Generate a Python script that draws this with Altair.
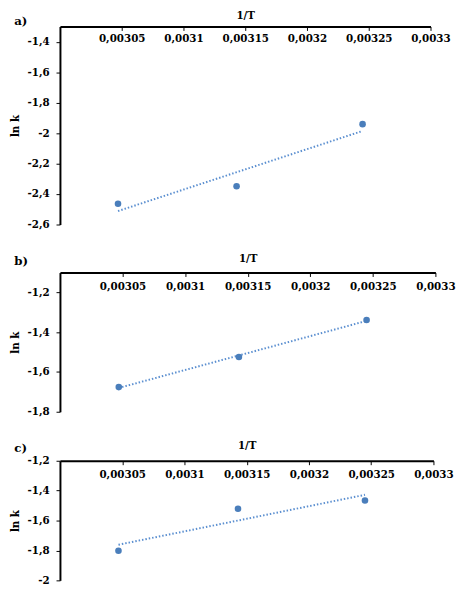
import altair as alt
import pandas as pd

# 1/T values (K^-1), shared by all panels
inv_T = [0.003047, 0.003143, 0.003245]

# ln k values
lnk_a = [-2.464, -2.349, -1.941]
lnk_b = [-1.676, -1.525, -1.339]
lnk_c = [-1.802, -1.521, -1.466]

x_ticks = [0.00305, 0.0031, 0.00315, 0.0032, 0.00325, 0.0033]
y_ticks_a = [-2.6, -2.4, -2.2, -2.0, -1.8, -1.6, -1.4]
y_ticks_b = [-1.8, -1.6, -1.4, -1.2]
y_ticks_c = [-2.0, -1.8, -1.6, -1.4, -1.2]

FONT = "DejaVu Serif"
FS = 10.5
PT_COLOR = "#4A7EBB"
LINE_COLOR = "#5B8FD0"

X_LABEL = "replace(format(datum.value, '.5~f'), '.', ',')"
Y_LABEL = "replace(replace(format(datum.value, '.1~f'), '.', ','), '\u2212', '-')"


def panel(label, y, ydomain, yvalues, w, h, title_y, label_pad, t_off):
    df = pd.DataFrame({"x": inv_T, "y": y})
    xscale = alt.Scale(domain=[0.003, 0.0033], nice=False, zero=False)
    yscale = alt.Scale(domain=ydomain, nice=False, zero=False)
    xaxis = alt.Axis(
        orient="bottom", offset=-h, values=x_ticks, labelExpr=X_LABEL,
        title="1/T", titleY=title_y, titleBaseline="middle",
        titleFont=FONT, titleFontSize=FS, titleFontWeight="bold", titleColor="black",
        labelFont=FONT, labelFontSize=FS, labelFontWeight="bold", labelColor="black",
        labelBaseline="middle", labelPadding=label_pad, labelFlush=False,
        tickSize=4, tickColor="black", tickWidth=1,
        domainColor="black", domainWidth=2, grid=False,
    )
    yaxis = alt.Axis(
        orient="left", values=yvalues, labelExpr=Y_LABEL,
        title="ln k", titleFont=FONT, titleFontSize=FS, titleFontWeight="bold",
        titleColor="black", titlePadding=7,
        labelFont=FONT, labelFontSize=FS, labelFontWeight="bold", labelColor="black",
        labelPadding=7, labelFlush=False,
        tickSize=4, tickColor="black", tickWidth=1,
        domainColor="black", domainWidth=2, grid=False,
    )
    enc = dict(
        x=alt.X("x:Q", scale=xscale, axis=xaxis),
        y=alt.Y("y:Q", scale=yscale, axis=yaxis),
    )
    base = alt.Chart(df)
    trend = base.transform_regression("x", "y").mark_line(
        color=LINE_COLOR, strokeDash=[1.5, 2], strokeWidth=2
    ).encode(**enc)
    points = base.mark_circle(size=45, opacity=1, color=PT_COLOR).encode(**enc)
    return alt.layer(trend, points).properties(
        width=w, height=h,
        title=alt.TitleParams(
            label, anchor="start", frame="bounds", font=FONT, fontSize=12,
            fontWeight="bold", color="black", offset=t_off, dx=4,
        ),
    )


a = panel("a)", lnk_a, [-2.6, -1.3], y_ticks_a, 378, 202, -11, 8, -17)
b = panel("b)", lnk_b, [-1.8, -1.1], y_ticks_b, 383, 142, -14, 10, -14)
c = panel("c)", lnk_c, [-2.0, -1.2], y_ticks_c, 381, 122, -15, 10, -14)

chart = alt.vconcat(
    a, alt.vconcat(b, c, spacing=24), spacing=24
).properties(
    padding={"left": 2, "top": -3, "right": 0, "bottom": 0}
).configure_view(stroke=None)

chart.save("out.html", embed_options={"renderer": "svg", "actions": False})
